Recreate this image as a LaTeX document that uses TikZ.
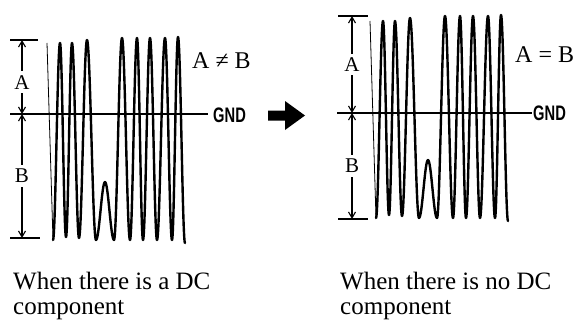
\documentclass[tikz,border=0pt]{standalone}
\usepackage{fontspec}
\setmainfont{Liberation Serif}
\newfontfamily\gndfont{Liberation Sans}
\usepackage{graphicx}
\usetikzlibrary{arrows.meta}

\newcommand{\dcwave}[1]{%
  \begin{scope}[shift={#1}]
    \draw[lead] (47,43) -- (53,240);
    \draw[trace] (53,240)
      \foreach \x/\y [remember=\x as \px (initially 53), remember=\y as \py (initially 240)] in
        {60/43, 66/237, 72/43, 79/238, 87/40, 96/240, 105/182, 114/240, 122/38, 130/240, 137/38,
         143/240, 150/38, 157/240, 165/38, 172/240, 178/37, 185/243}
        { cos ({(\px+\x)/2},{(\py+\y)/2}) sin (\x,\y) };
  \end{scope}}

\begin{document}
\begin{tikzpicture}[x=1pt,y=-1pt,>={Straight Barb[length=6pt,width=7pt]},
  trace/.style={line width=2.4pt,line join=round,line cap=round},
  lead/.style={line width=0.8pt},
  gndline/.style={line width=1.6pt},
  bar/.style={line width=1.3pt},
  dim/.style={line width=1.1pt,<->},
  lbl/.style={fill=white,inner sep=4pt,font=\fontsize{21}{21}\selectfont},
  eq/.style={anchor=base west,inner sep=0pt,font=\fontsize{24}{24}\selectfont},
  gnd/.style={anchor=base west,inner sep=0pt,font=\gndfont\bfseries\fontsize{21}{21}\selectfont},
  caption/.style={anchor=north west,inner sep=0pt,align=left,font=\fontsize{25}{25}\selectfont}]
  \useasboundingbox (0,0) rectangle (577,321);
  % left: with DC component
  \coordinate (ltop) at (22,40); \coordinate (lgnd) at (22,114); \coordinate (lbot) at (22,238);
  \coordinate (lg0) at (10,114); \coordinate (lg1) at (208,114);
  \dcwave{(0,0)}
  \draw[gndline] (lg0) -- (lg1);
  \draw[bar] (10,40) -- (38,40);
  \draw[bar] (10,238) -- (40,238);
  \draw[dim] (ltop) -- node[lbl,pos=0.57] (la) {A} (lgnd);
  \draw[dim] (lgnd) -- node[lbl] (lb) {B} (lbot);
  \node[gnd] (lgndlbl) at (213,122) {\scalebox{0.7}[1]{GND}};
  \node[eq] (lneq) at (192,68) {A ≠ B};
  \node[caption] (lcap) at (13,272) {When there is a DC\\component};
  % arrow
  \fill (268,110.5) -- (285,110.5) -- (285,101) -- (305,115.5) -- (285,130) -- (285,120.5) -- (268,120.5) -- cycle;
  % right: without DC component
  \coordinate (rtop) at (352,16); \coordinate (rgnd) at (352,113); \coordinate (rbot) at (352,219);
  \coordinate (rg0) at (337,113); \coordinate (rg1) at (532,113);
  \dcwave{(323,-22)}
  \draw[gndline] (rg0) -- (rg1);
  \draw[bar] (338,16) -- (368,16);
  \draw[bar] (338,219) -- (368,219);
  \draw[dim] (rtop) -- node[lbl] (ra) {A} (rgnd);
  \draw[dim] (rgnd) -- node[lbl] (rb) {B} (rbot);
  \node[gnd] (rgndlbl) at (533,120) {\scalebox{0.7}[1]{GND}};
  \node[eq] (req) at (515,62) {A = B};
  \node[caption] (rcap) at (340,272) {When there is no DC\\component};
\end{tikzpicture}
\end{document}
